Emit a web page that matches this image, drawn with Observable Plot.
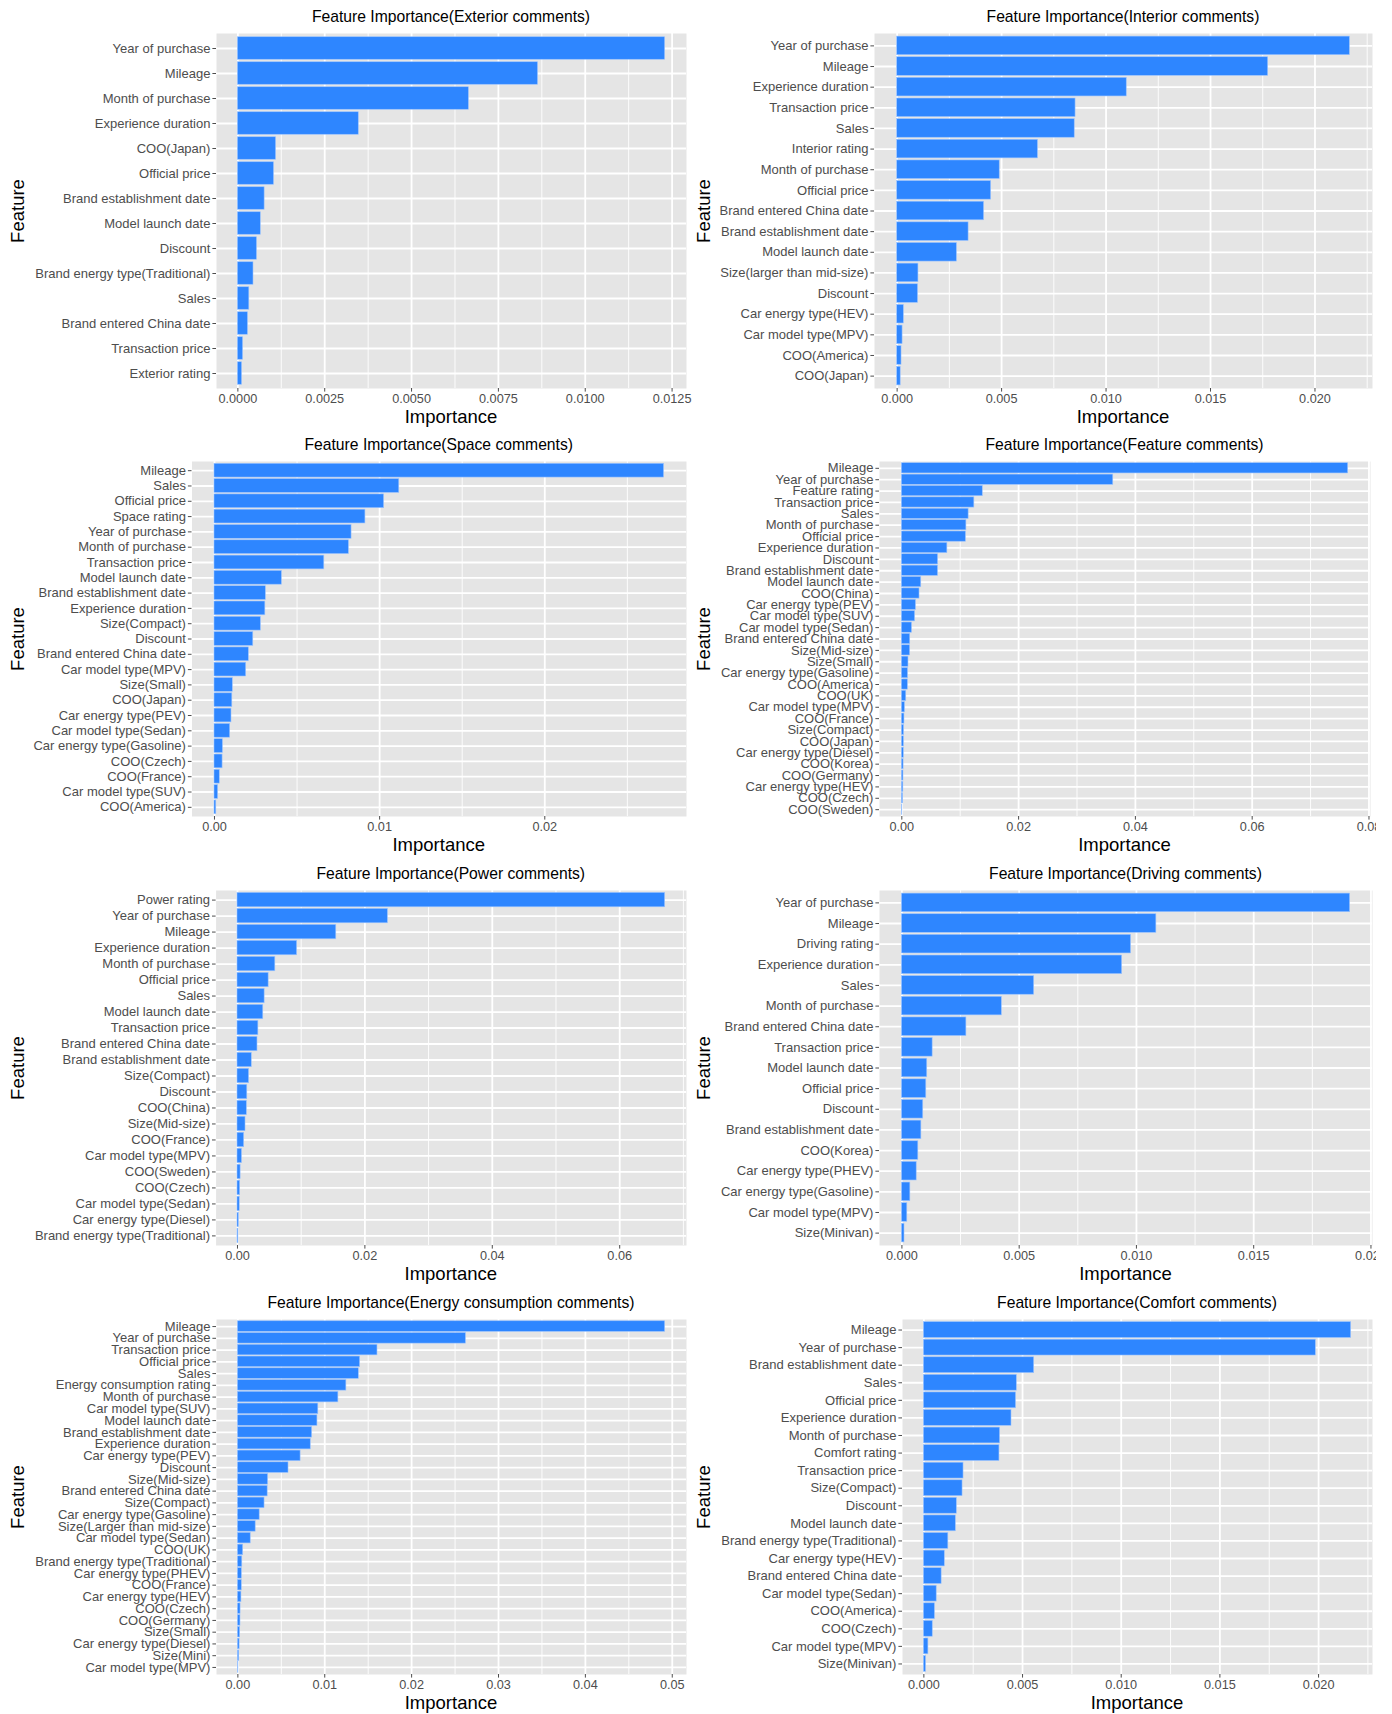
<!DOCTYPE html>
<html>
<head>
<meta charset="utf-8">
<script src="https://cdn.jsdelivr.net/npm/d3@7"></script>
<script src="https://cdn.jsdelivr.net/npm/@observablehq/plot@0.6"></script>
<style>
  html, body { margin: 0; padding: 0; background: #fff; }
  #root { position: relative; width: 1392px; height: 1714px; background: #fff; overflow: hidden;
          font-family: "Liberation Sans", Arial, Helvetica, sans-serif; }
  .panel-svg { position: absolute; }
  .ttl { position: absolute; transform: translate(-50%, -50%); font-size: 15.7px; color: #000; white-space: nowrap; }
  .xl { position: absolute; transform: translate(-50%, -50%); font-size: 18.5px; color: #000; white-space: nowrap; }
  .yl { position: absolute; transform: translate(-50%, -50%) rotate(-90deg); font-size: 18.5px; color: #000; white-space: nowrap; }
</style>
</head>
<body>
<div id="root"></div>
<script>
// ---------- DATA ----------
const exteriorFeatures = ["Year of purchase","Mileage","Month of purchase","Experience duration","COO(Japan)","Official price","Brand establishment date","Model launch date","Discount","Brand energy type(Traditional)","Sales","Brand entered China date","Transaction price","Exterior rating"];
const exteriorValues = [0.0123,0.00864,0.00665,0.00348,0.0011,0.00104,0.00077,0.00066,0.00055,0.00045,0.00033,0.00029,0.00015,0.00012];
const exteriorTicks = [0, 0.0025, 0.005, 0.0075, 0.01, 0.0125];

const interiorFeatures = ["Year of purchase","Mileage","Experience duration","Transaction price","Sales","Interior rating","Month of purchase","Official price","Brand entered China date","Brand establishment date","Model launch date","Size(larger than mid-size)","Discount","Car energy type(HEV)","Car model type(MPV)","COO(America)","COO(Japan)"];
const interiorValues = [0.02167,0.01776,0.01099,0.00854,0.0085,0.00674,0.00491,0.0045,0.00416,0.00342,0.00286,0.00102,0.001,0.00032,0.00026,0.00021,0.00017];
const interiorTicks = [0, 0.005, 0.01, 0.015, 0.02];

const spaceFeatures = ["Mileage","Sales","Official price","Space rating","Year of purchase","Month of purchase","Transaction price","Model launch date","Brand establishment date","Experience duration","Size(Compact)","Discount","Brand entered China date","Car model type(MPV)","Size(Small)","COO(Japan)","Car energy type(PEV)","Car model type(Sedan)","Car energy type(Gasoline)","COO(Czech)","COO(France)","Car model type(SUV)","COO(America)"];
const spaceValues = [0.02722,0.01119,0.01027,0.00914,0.0083,0.00814,0.00665,0.00408,0.00311,0.00308,0.00281,0.00235,0.00208,0.00192,0.00111,0.00108,0.00103,0.00095,0.00051,0.00049,0.00032,0.00022,0.00011];
const spaceTicks = [0, 0.01, 0.02];

const featureFeatures = ["Mileage","Year of purchase","Feature rating","Transaction price","Sales","Month of purchase","Official price","Experience duration","Discount","Brand establishment date","Model launch date","COO(China)","Car energy type(PEV)","Car model type(SUV)","Car model type(Sedan)","Brand entered China date","Size(Mid-size)","Size(Small)","Car energy type(Gasoline)","COO(America)","COO(UK)","Car model type(MPV)","COO(France)","Size(Compact)","COO(Japan)","Car energy type(Diesel)","COO(Korea)","COO(Germany)","Car energy type(HEV)","COO(Czech)","COO(Sweden)"];
const featureValues = [0.07644,0.03621,0.01386,0.01242,0.01144,0.01106,0.01098,0.0078,0.00621,0.0062,0.00333,0.00303,0.00242,0.00227,0.00174,0.00144,0.00142,0.00114,0.00106,0.00104,0.00076,0.00053,0.00045,0.00038,0.00036,0.00034,0.0003,0.00028,0.00026,0.00022,0.00008];
const featureTicks = [0, 0.02, 0.04, 0.06, 0.08];

const powerFeatures = ["Power rating","Year of purchase","Mileage","Experience duration","Month of purchase","Official price","Sales","Model launch date","Transaction price","Brand entered China date","Brand establishment date","Size(Compact)","Discount","COO(China)","Size(Mid-size)","COO(France)","Car model type(MPV)","COO(Sweden)","COO(Czech)","Car model type(Sedan)","Car energy type(Diesel)","Brand energy type(Traditional)"];
const powerValues = [0.06713,0.02361,0.01551,0.00936,0.00594,0.00489,0.00426,0.00405,0.00328,0.00314,0.00224,0.00182,0.00154,0.00147,0.00126,0.00105,0.0007,0.00049,0.00042,0.00035,0.00021,0.00014];
const powerTicks = [0, 0.02, 0.04, 0.06];

const drivingFeatures = ["Year of purchase","Mileage","Driving rating","Experience duration","Sales","Month of purchase","Brand entered China date","Transaction price","Model launch date","Official price","Discount","Brand establishment date","COO(Korea)","Car energy type(PHEV)","Car energy type(Gasoline)","Car model type(MPV)","Size(Minivan)"];
const drivingValues = [0.01911,0.01085,0.00977,0.00939,0.00564,0.00426,0.00275,0.00131,0.00108,0.00104,0.00091,0.00083,0.0007,0.00063,0.00036,0.00023,0.00011];
const drivingTicks = [0, 0.005, 0.01, 0.015, 0.02];

const energyFeatures = ["Mileage","Year of purchase","Transaction price","Official price","Sales","Energy consumption rating","Month of purchase","Car model type(SUV)","Model launch date","Brand establishment date","Experience duration","Car energy type(PEV)","Discount","Size(Mid-size)","Brand entered China date","Size(Compact)","Car energy type(Gasoline)","Size(Larger than mid-size)","Car model type(Sedan)","COO(UK)","Brand energy type(Traditional)","Car energy type(PHEV)","COO(France)","Car energy type(HEV)","COO(Czech)","COO(Germany)","Size(Small)","Car energy type(Diesel)","Size(Mini)","Car model type(MPV)"];
const energyValues = [0.04918,0.02625,0.01607,0.01407,0.01392,0.01249,0.01157,0.00926,0.00916,0.00855,0.00839,0.00722,0.00583,0.00348,0.00343,0.00307,0.00251,0.00205,0.00148,0.00061,0.00051,0.00046,0.00045,0.00041,0.00031,0.0003,0.00026,0.0002,0.00016,0.00006];
const energyTicks = [0, 0.01, 0.02, 0.03, 0.04, 0.05];

const comfortFeatures = ["Mileage","Year of purchase","Brand establishment date","Sales","Official price","Experience duration","Month of purchase","Comfort rating","Transaction price","Size(Compact)","Discount","Model launch date","Brand energy type(Traditional)","Car energy type(HEV)","Brand entered China date","Car model type(Sedan)","COO(America)","COO(Czech)","Car model type(MPV)","Size(Minivan)"];
const comfortValues = [0.02165,0.01986,0.00559,0.00471,0.00467,0.00444,0.00386,0.00383,0.00201,0.00196,0.00167,0.00162,0.00124,0.00106,0.0009,0.00065,0.00056,0.00045,0.00023,0.00011];
const comfortTicks = [0, 0.005, 0.01, 0.015, 0.02];

// ---------- LAYOUT ----------
const panels = [
  {title: "Feature Importance(Exterior comments)", f: exteriorFeatures, v: exteriorValues, t: exteriorTicks, dec: 4, col: 0, row: 0, gl: 216, gr: 686},
  {title: "Feature Importance(Interior comments)", f: interiorFeatures, v: interiorValues, t: interiorTicks, dec: 3, col: 1, row: 0, gl: 874, gr: 1372},
  {title: "Feature Importance(Space comments)", f: spaceFeatures, v: spaceValues, t: spaceTicks, dec: 2, col: 0, row: 1, gl: 191.5, gr: 686},
  {title: "Feature Importance(Feature comments)", f: featureFeatures, v: featureValues, t: featureTicks, dec: 2, col: 1, row: 1, gl: 879, gr: 1370},
  {title: "Feature Importance(Power comments)", f: powerFeatures, v: powerValues, t: powerTicks, dec: 2, col: 0, row: 2, gl: 215.6, gr: 686},
  {title: "Feature Importance(Driving comments)", f: drivingFeatures, v: drivingValues, t: drivingTicks, dec: 3, col: 1, row: 2, gl: 879, gr: 1372},
  {title: "Feature Importance(Energy consumption comments)", f: energyFeatures, v: energyValues, t: energyTicks, dec: 2, col: 0, row: 3, gl: 216, gr: 686},
  {title: "Feature Importance(Comfort comments)", f: comfortFeatures, v: comfortValues, t: comfortTicks, dec: 3, col: 1, row: 3, gl: 902, gr: 1372}
];
const rowTop = [0, 428, 857, 1286];
const colLeft = [0, 696];
const colRight = [696, 1376];
const PH = 428, MT = 33, MB = 40;

const root = document.getElementById("root");

function addText(cls, text, x, y) {
  const d = document.createElement("div");
  d.className = cls;
  d.textContent = text;
  d.style.left = x + "px";
  d.style.top = y + "px";
  root.appendChild(d);
}

for (const p of panels) {
  const data = p.f.map((name, i) => ({feature: name, value: p.v[i]}));
  const max = d3.max(p.v);
  const dom = [-0.05 * max, 1.05 * max];
  const minor = [];
  for (let i = 0; i < p.t.length; i++) {
    const step = p.t[1] - p.t[0];
    const m1 = p.t[i] + step / 2, m0 = p.t[i] - step / 2;
    if (m1 > dom[0] && m1 < dom[1]) minor.push(m1);
    if (i === 0 && m0 > dom[0]) minor.push(m0);
  }
  const L = colLeft[p.col], R = colRight[p.col];
  const W = R - L;
  const top = rowTop[p.row];
  const fmt = d3.format("." + p.dec + "f");

  const chart = Plot.plot({
    width: W,
    height: PH,
    marginTop: MT,
    marginBottom: MB,
    marginLeft: p.gl - L,
    marginRight: R - p.gr,
    style: {fontFamily: '"Liberation Sans", Arial, Helvetica, sans-serif', background: "transparent", overflow: "hidden"},
    x: {domain: dom, round: false},
    y: {domain: p.f, paddingInner: 0.1, paddingOuter: 0.15, round: false},
    marks: [
      Plot.frame({fill: "#E5E5E5", stroke: null}),
      Plot.gridX({ticks: minor, stroke: "white", strokeOpacity: 1, strokeWidth: 0.9}),
      Plot.gridX({ticks: p.t, stroke: "white", strokeOpacity: 1, strokeWidth: 1.8}),
      Plot.gridY({stroke: "white", strokeOpacity: 1, strokeWidth: 1.8}),
      Plot.barX(data, {x: "value", y: "feature", fill: "#2E86FF", stroke: "#9CC4FF", strokeWidth: 0.6}),
      Plot.axisX({ticks: p.t, tickFormat: fmt, tickSize: 3.6, tickPadding: 2, fontSize: 12.7, color: "#4D4D4D", label: null}),
      Plot.axisY({tickSize: 3.6, tickPadding: 2.5, fontSize: 13, color: "#4D4D4D", label: null})
    ]
  });
  chart.classList.add("panel-svg");
  chart.style.left = L + "px";
  chart.style.top = top + "px";
  root.appendChild(chart);

  const cx = (p.gl + p.gr) / 2;
  addText("ttl", p.title, cx, top + 17);
  addText("xl", "Importance", cx, top + 417);
  addText("yl", "Feature", p.col === 0 ? 18 : 704, top + MT + (PH - MT - MB) / 2);
}
</script>
</body>
</html>
